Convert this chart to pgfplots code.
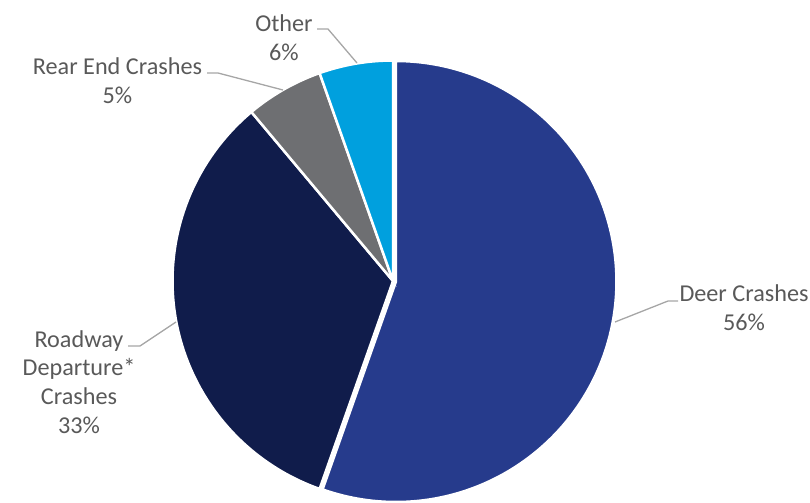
\documentclass[border=0pt]{standalone}
\usepackage{pgfplots}
\pgfplotsset{compat=1.18}
\usepackage{fontspec}
\setmainfont{Carlito}
\definecolor{deer}{RGB}{38,59,140}
\definecolor{road}{RGB}{16,28,75}
\definecolor{rear}{RGB}{110,111,114}
\definecolor{other}{RGB}{0,160,222}
\definecolor{lab}{RGB}{89,89,89}
\definecolor{lead}{RGB}{166,166,166}
\begin{document}
\begin{tikzpicture}
% slice shares (percent), clockwise from 12 o'clock
\def\pDeer{55.4}\def\pRoad{33.5}\def\pRear{5.7}\def\pOther{5.4}
\pgfmathsetmacro\aA{90}
\pgfmathsetmacro\aB{90-3.6*\pDeer}
\pgfmathsetmacro\aC{\aB-3.6*\pRoad}
\pgfmathsetmacro\aD{\aC-3.6*\pRear}
\pgfmathsetmacro\aE{\aD-3.6*\pOther}
\pgfmathsetmacro\mDeer{(\aA+\aB)/2}
\def\cx{393}\def\cy{281}\def\r{220.5}
\pgfmathsetmacro\dx{\cx+3*cos(\mDeer)}
\pgfmathsetmacro\dy{\cy-3*sin(\mDeer)}
\begin{axis}[width=810bp,height=502bp,scale only axis,hide axis,
  xmin=0,xmax=810,ymin=0,ymax=502,y dir=reverse,
  every axis plot/.append style={no marks}]
\addplot[fill=deer,draw=white,line width=2.5bp,domain=\aB:\aA,samples=150,variable=\t]
  ({\dx+\r*cos(\t)},{\dy-\r*sin(\t)}) -- (axis cs:\dx,\dy) -- cycle;
\addplot[fill=road,draw=white,line width=2.5bp,domain=\aC:\aB,samples=100,variable=\t]
  ({\cx+\r*cos(\t)},{\cy-\r*sin(\t)}) -- (axis cs:\cx,\cy) -- cycle;
\addplot[fill=rear,draw=white,line width=2.5bp,domain=\aD:\aC,samples=30,variable=\t]
  ({\cx+\r*cos(\t)},{\cy-\r*sin(\t)}) -- (axis cs:\cx,\cy) -- cycle;
\addplot[fill=other,draw=white,line width=2.5bp,domain=\aE:\aD,samples=30,variable=\t]
  ({\cx+\r*cos(\t)},{\cy-\r*sin(\t)}) -- (axis cs:\cx,\cy) -- cycle;
% leader lines
\addplot[lead,line width=1.3bp] coordinates {(317,29) (328,29) (357,63)};
\addplot[lead,line width=1.3bp] coordinates {(207,73) (218,73) (283,90)};
\addplot[lead,line width=1.3bp] coordinates {(615,322) (668,301) (678,301)};
\addplot[lead,line width=1.3bp] coordinates {(128,346) (140,346) (176,322)};
% labels
\tikzset{lbl/.style={font=\fontsize{24.2bp}{28.7bp}\selectfont,text=lab,align=center,inner sep=0pt}}
\node[lbl] at (axis cs:284,37.5) {Other\\6\%};
\node[lbl] at (axis cs:117.5,81) {Rear End Crashes\\5\%};
\node[lbl] at (axis cs:744,308) {Deer Crashes\\56\%};
\node[lbl] at (axis cs:79,382) {Roadway\\Departure*\\Crashes\\33\%};
\end{axis}
\pgfresetboundingbox
\path (current axis.south west) rectangle (current axis.north east);
\end{tikzpicture}
\end{document}
